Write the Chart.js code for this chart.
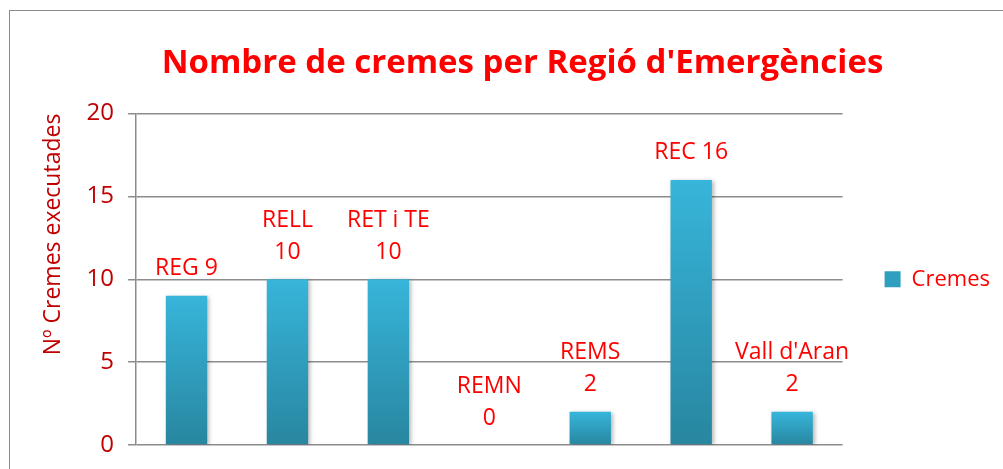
<!DOCTYPE html>
<html>
<head>
<meta charset="utf-8">
<script src="https://cdn.jsdelivr.net/npm/chart.js@4.4.0/dist/chart.umd.min.js"></script>
<style>
  body { margin: 0; background: #fff; }
  .wrap { position: relative; width: 1003px; height: 469px; overflow: hidden; }
  .frame { position: absolute; left: 9px; top: 10px; width: 1010px; height: 480px; border: 1.5px solid #8c8c8c; }
  canvas { position: absolute; left: 0; top: 0; }
</style>
</head>
<body>
<div class="wrap">
  <div class="frame"></div>
  <canvas id="cremesChart" width="1003" height="469"></canvas>
</div>
<script>
// Data
const regions = ['REG', 'RELL', 'RET i TE', 'REMN', 'REMS', 'REC', "Vall d'Aran"];
const cremes = [9, 10, 10, 0, 2, 16, 2];
const oneLineLabel = [true, false, false, false, false, true, false];
const yTicks = [0, 5, 10, 15, 20];

const FONT = "'Open Sans', sans-serif";
const TOP_BLUE = '#37b5da';
const BOTTOM_BLUE = '#2886a0';

// each bar gets its own light-to-dark gradient
function barGradient(context) {
  const chart = context.chart;
  const yScale = chart.scales.y;
  if (!chart.chartArea || !yScale || context.dataIndex === undefined) return TOP_BLUE;
  const top = yScale.getPixelForValue(cremes[context.dataIndex]);
  const bottom = yScale.getPixelForValue(0);
  const g = chart.ctx.createLinearGradient(0, top, 0, Math.max(bottom, top + 1));
  g.addColorStop(0, TOP_BLUE);
  g.addColorStop(1, BOTTOM_BLUE);
  return g;
}

// value labels above the bars ("REG 9", "RELL / 10", ...)
const barLabels = {
  id: 'barLabels',
  afterDatasetsDraw(chart) {
    const ctx = chart.ctx;
    const meta = chart.getDatasetMeta(0);
    ctx.save();
    ctx.font = '23px ' + FONT;
    ctx.fillStyle = '#ff0000';
    ctx.textAlign = 'center';
    ctx.textBaseline = 'middle';
    meta.data.forEach((bar, i) => {
      const lines = oneLineLabel[i]
        ? [regions[i] + ' ' + cremes[i]]
        : [regions[i], String(cremes[i])];
      let y = bar.y - 27;
      for (let k = lines.length - 1; k >= 0; k--) {
        ctx.fillText(lines[k], bar.x, y);
        y -= 32;
      }
    });
    ctx.restore();
  }
};

// soft shadow behind the bars
const barShadow = {
  id: 'barShadow',
  beforeDatasetsDraw(chart) {
    const ctx = chart.ctx;
    ctx.save();
    ctx.shadowColor = 'rgba(0,0,0,0.28)';
    ctx.shadowBlur = 4;
    ctx.shadowOffsetX = 2;
    ctx.shadowOffsetY = 1;
  },
  afterDatasetsDraw(chart) {
    chart.ctx.restore();
  }
};

const ctxCremes = document.getElementById('cremesChart').getContext('2d');
const cremesChart = new Chart(ctxCremes, {
  type: 'bar',
  data: {
    labels: regions,
    datasets: [{
      label: 'Cremes',
      data: cremes,
      backgroundColor: barGradient,
      barPercentage: 0.41,
      categoryPercentage: 1
    }]
  },
  options: {
    responsive: false,
    animation: false,
    layout: { padding: { left: 45, right: 3, top: 0, bottom: 16 } },
    plugins: {
      legend: {
        position: 'right',
        fullSize: false,
        labels: {
          color: '#ff0000',
          font: { family: FONT, size: 22 },
          boxWidth: 16,
          boxHeight: 16,
          padding: 42,
          generateLabels: chart => [{
            text: chart.data.datasets[0].label,
            fillStyle: '#2f9fc0',
            strokeStyle: '#2f9fc0',
            fontColor: '#ff0000',
            lineWidth: 0,
            datasetIndex: 0
          }]
        }
      },
      tooltip: { enabled: false },
      title: {
        display: true,
        text: "Nombre de cremes per Regió d'Emergències",
        color: '#ff0000',
        font: { family: FONT, size: 33, weight: 'bold' },
        padding: { top: 44, bottom: 30 }
      }
    },
    scales: {
      x: {
        grid: { display: false },
        border: { display: false },
        ticks: { display: false }
      },
      y: {
        min: 0,
        max: 20,
        afterBuildTicks: axis => { axis.ticks = yTicks.map(v => ({ value: v })); },
        grid: { color: '#8c8c8c', lineWidth: 1.5, tickLength: 8 },
        border: { color: '#8c8c8c', width: 1.5 },
        ticks: {
          color: '#c00000',
          padding: 14,
          font: { family: FONT, size: 24, lineHeight: 0.6 }
        },
        title: {
          display: true,
          align: 'end',
          text: 'Nº Cremes executades',
          color: '#c00000',
          font: { family: FONT, size: 23 },
          padding: { top: -5, bottom: 5 }
        }
      }
    }
  },
  plugins: [barShadow, barLabels]
});
</script>
</body>
</html>
